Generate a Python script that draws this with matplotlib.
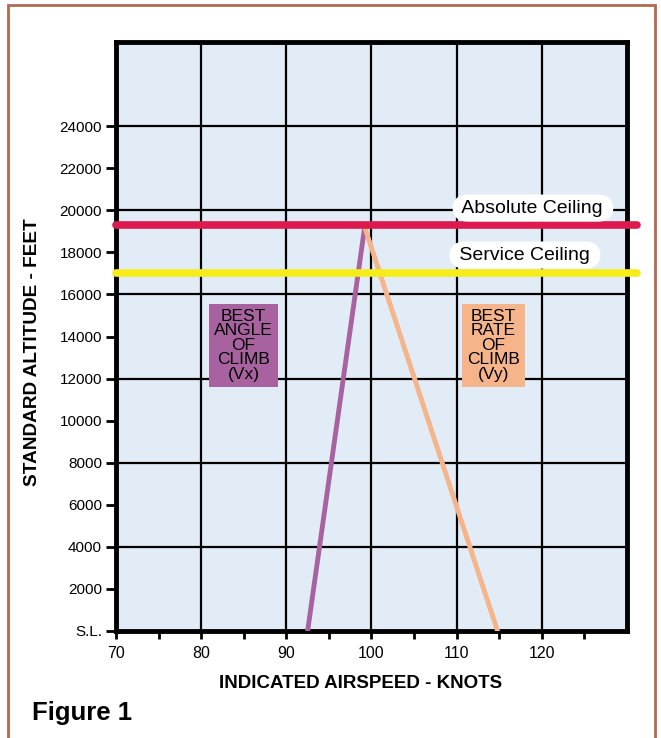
import matplotlib
matplotlib.use("Agg")
import matplotlib.pyplot as plt
from matplotlib.patches import Rectangle

plt.rcParams['font.family'] = ['Liberation Sans', 'DejaVu Sans']

# Data
vx_speed = [92.5, 99.2]
vx_alt = [0, 19200]
vy_speed = [99.2, 114.8]
vy_alt = [19200, 0]
ceiling_names = ["Absolute Ceiling", "Service Ceiling"]
ceiling_alts = [19300, 17000]
ceiling_colors = ["#dc1a50", "#f5ec1a"]
y_ticks = [0, 2000, 4000, 6000, 8000, 10000, 12000, 14000, 16000, 18000, 20000, 22000, 24000]
y_ticklabels = ["S.L.", "2000", "4000", "6000", "8000", "10000", "12000", "14000",
                "16000", "18000", "20000", "22000", "24000"]
x_ticks = [70, 80, 90, 100, 110, 120]
x_ticklabels = ["70", "80", "90", "100", "110", "120"]

fig = plt.figure(figsize=(6.61, 7.38), dpi=100)
fig.patch.set_facecolor("white")

# outer brown frame
fig.add_artist(Rectangle((8/661, -0.01), (655-8)/661, 1 - 5/738 + 0.01,
                         transform=fig.transFigure, fill=False,
                         edgecolor="#b5694d", linewidth=2))

ax = fig.add_axes([116/661, 1-631/738, (627-116)/661, (631-42)/738])
ax.set_facecolor("#e1ecf7")
ax.set_xlim(70, 130)
ax.set_ylim(0, 28000)

for x in [80, 90, 100, 110, 120]:
    ax.axvline(x, color="black", lw=1.6, zorder=1)
for y in [4000, 8000, 12000, 16000, 20000, 24000]:
    ax.axhline(y, color="black", lw=1.6, zorder=1)

for s in ax.spines.values():
    s.set_linewidth(3.5)
    s.set_color("black")

ax.set_yticks(y_ticks)
ax.set_yticklabels(y_ticklabels, fontsize=11)
ax.set_xticks(x_ticks)
ax.set_xticklabels(x_ticklabels, fontsize=11.5)
ax.set_xticks([75, 85, 95, 105, 115, 125], minor=True)
ax.tick_params(axis='y', direction='out', length=7, width=2, pad=3)
ax.tick_params(axis='x', which='major', direction='out', length=6, width=2, pad=5)
ax.tick_params(axis='x', which='minor', direction='out', length=6, width=2)

# climb lines
ax.plot(vx_speed, vx_alt, color="#a862a0", lw=3.5, solid_capstyle="round", zorder=3)
ax.plot(vy_speed, vy_alt, color="#f5b48a", lw=3.5, solid_capstyle="round", zorder=3)

# ceilings
label_pos = [(118.96, 20105), (118.02, 17871)]
for name, alt, col, (lx, ly) in zip(ceiling_names, ceiling_alts, ceiling_colors, label_pos):
    ax.plot([70, 131.2], [alt, alt], color=col, lw=5.5, solid_capstyle="round",
            clip_on=False, zorder=4)
    ax.text(lx, ly, " " + name + " ", ha="center", va="center", fontsize=14,
            clip_on=False, zorder=5,
            bbox=dict(boxstyle="round,pad=0.26,rounding_size=0.8", fc="white", ec="none"))

ax.text(84.97, 13590, "BEST\nANGLE\nOF\nCLIMB\n(Vx)", ha="center", va="center",
        fontsize=12.5, linespacing=0.96, zorder=5,
        bbox=dict(boxstyle="square,pad=0.28", fc="#a862a0", ec="none"))
ax.text(114.3, 13590, "BEST\nRATE\nOF\nCLIMB\n(Vy)", ha="center", va="center",
        fontsize=12.5, linespacing=0.96, zorder=5,
        bbox=dict(boxstyle="square,pad=0.28", fc="#f5b48a", ec="none"))

fig.text(361/661, 1-683/738, "INDICATED AIRSPEED - KNOTS", ha="center", va="center",
         fontsize=13.5, fontweight="bold")
fig.text(33/661, 1-352/738, "STANDARD ALTITUDE - FEET", ha="center", va="center",
         rotation=90, fontsize=13.7, fontweight="bold")
fig.text(32/661, 1-713/738, "Figure 1", ha="left", va="center",
         fontsize=18.5, fontweight="bold")

fig.savefig("out.png", dpi=100)
